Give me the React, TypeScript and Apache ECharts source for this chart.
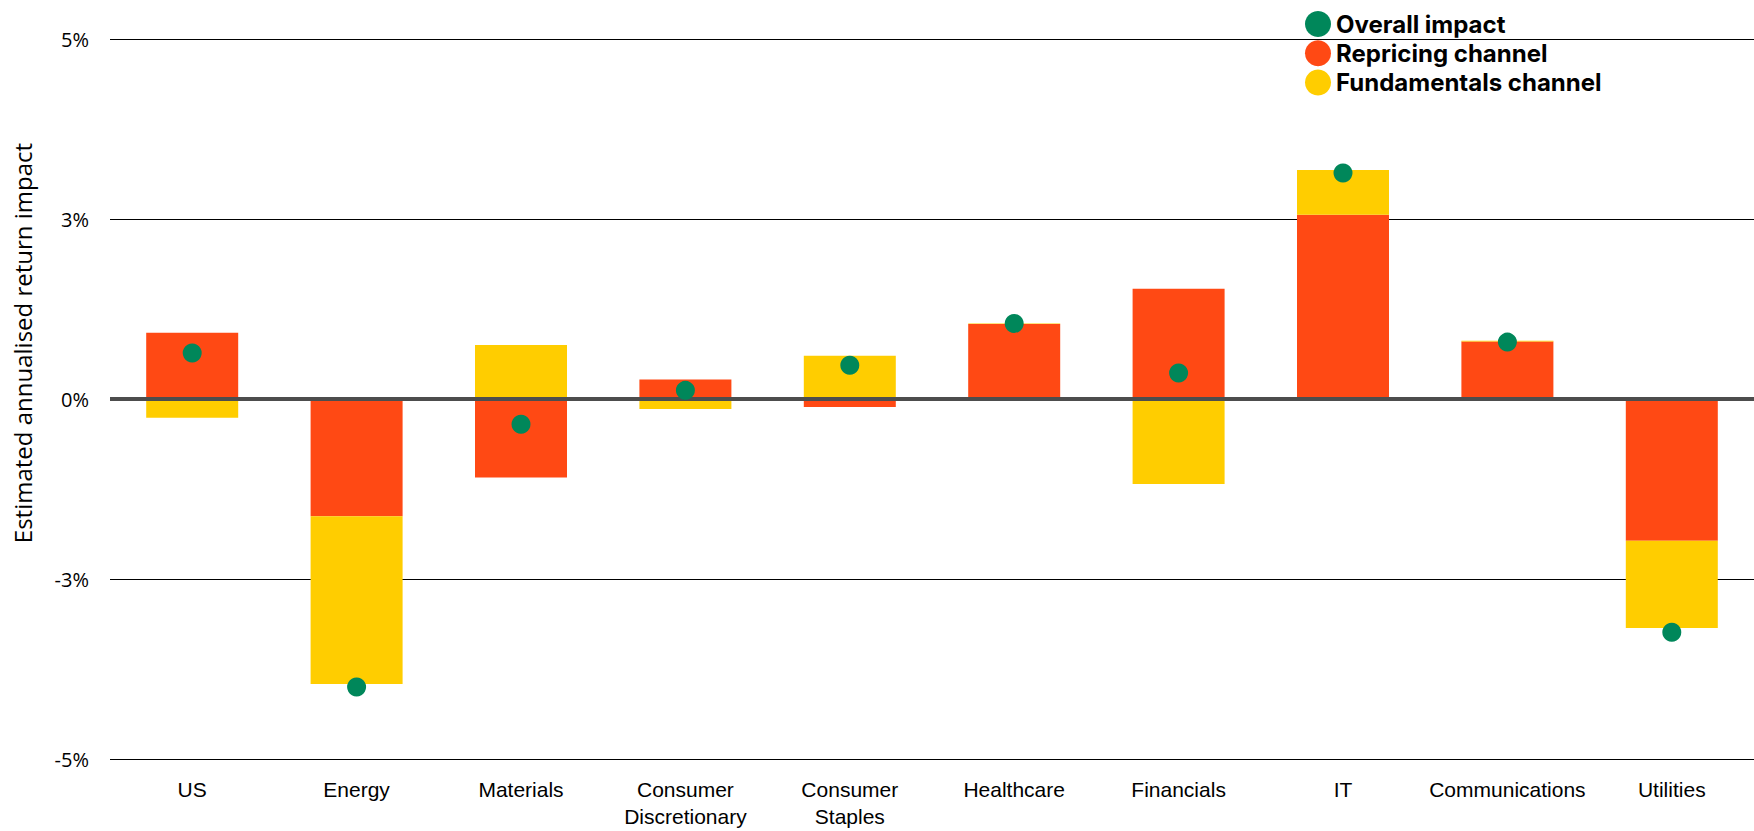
import React, { useEffect, useRef } from "react";
import * as echarts from "echarts";

const categories = [
  "US",
  "Energy",
  "Materials",
  "Consumer\nDiscretionary",
  "Consumer\nStaples",
  "Healthcare",
  "Financials",
  "IT",
  "Communications",
  "Utilities",
];
const repricing = [0.92, -1.63, -1.09, 0.27, -0.11, 1.04, 1.53, 2.56, 0.8, -1.97];
const fundamentals = [-0.26, -2.33, 0.75, -0.14, 0.6, 0.01, -1.18, 0.62, 0.01, -1.21];
const overall = [0.64, -4.0, -0.35, 0.12, 0.47, 1.05, 0.36, 3.14, 0.79, -3.24];
const yTickValues = [-5, -2.5, 0, 2.5, 5];
const yTickLabels = ["-5%", "-3%", "0%", "3%", "5%"];

const ORANGE = "#FF4914";
const YELLOW = "#FFCD00";
const GREEN = "#00875A";

export default function App() {
  const ref = useRef<HTMLDivElement>(null);
  useEffect(() => {
    if (!ref.current) return;
    const chart = echarts.init(ref.current, undefined, { renderer: "svg" });
    chart.setOption({
      animation: false,
      backgroundColor: "#ffffff",
      grid: {
        left: 110,
        right: 0,
        top: 39,
        bottom: 72,
        containLabel: false,
        outerBoundsMode: "none",
      },
      legend: {
        orient: "vertical",
        left: 1300,
        top: 6,
        itemWidth: 26,
        itemHeight: 26,
        itemGap: 3.2,
        icon: "circle",
        selectedMode: false,
        data: ["Overall impact", "Repricing channel", "Fundamentals channel"],
        textStyle: {
          fontFamily: "Inter",
          fontWeight: "bold",
          fontSize: 24,
          lineHeight: 26,
          color: "#000",
          padding: [0, 0, 0, 0],
        },
      },
      graphic: [
        {
          type: "text",
          x: 22,
          y: 343,
          rotation: Math.PI / 2,
          style: {
            text: "Estimated annualised return impact",
            fontFamily: "Open Sans",
            fontSize: 24,
            fill: "#000",
            align: "center",
            verticalAlign: "middle",
          },
        },
      ],
      xAxis: {
        type: "category",
        data: categories,
        axisLine: { show: false, onZero: false },
        axisTick: { show: false },
        splitLine: { show: false },
        axisLabel: {
          fontFamily: "Liberation Sans",
          fontSize: 21,
          color: "#000",
          margin: 17,
          lineHeight: 27,
          verticalAlign: "top",
          interval: 0,
        },
      },
      yAxis: {
        type: "value",
        min: -5,
        max: 5,
        interval: 2.5,
        axisLine: { show: false },
        axisTick: { show: false },
        splitLine: { show: true, lineStyle: { color: "#000", width: 1 } },
        axisLabel: {
          fontFamily: "Open Sans",
          fontSize: 20,
          color: "#000",
          margin: 21,
          formatter: (v: number) => {
            const i = yTickValues.findIndex((t) => Math.abs(t - v) < 1e-6);
            return i >= 0 ? yTickLabels[i] : "";
          },
        },
      },
      series: [
        {
          name: "Repricing channel",
          type: "bar",
          stack: "total",
          data: repricing,
          barWidth: 92,
          itemStyle: { color: ORANGE },
          markLine: {
            silent: true,
            symbol: "none",
            label: { show: false },
            lineStyle: { color: "#4d4d4d", width: 4, type: "solid" },
            data: [{ yAxis: 0 }],
            z: 10,
          },
        },
        {
          name: "Fundamentals channel",
          type: "bar",
          stack: "total",
          data: fundamentals,
          barWidth: 92,
          itemStyle: { color: YELLOW },
        },
        {
          name: "Overall impact",
          type: "scatter",
          data: overall,
          symbol: "circle",
          symbolSize: 19,
          itemStyle: { color: GREEN, opacity: 1 },
          z: 20,
        },
      ],
    });
    return () => chart.dispose();
  }, []);
  return (
    <div
      ref={ref}
      style={{ position: "fixed", left: 0, top: 0, width: 1754, height: 831 }}
    />
  );
}
